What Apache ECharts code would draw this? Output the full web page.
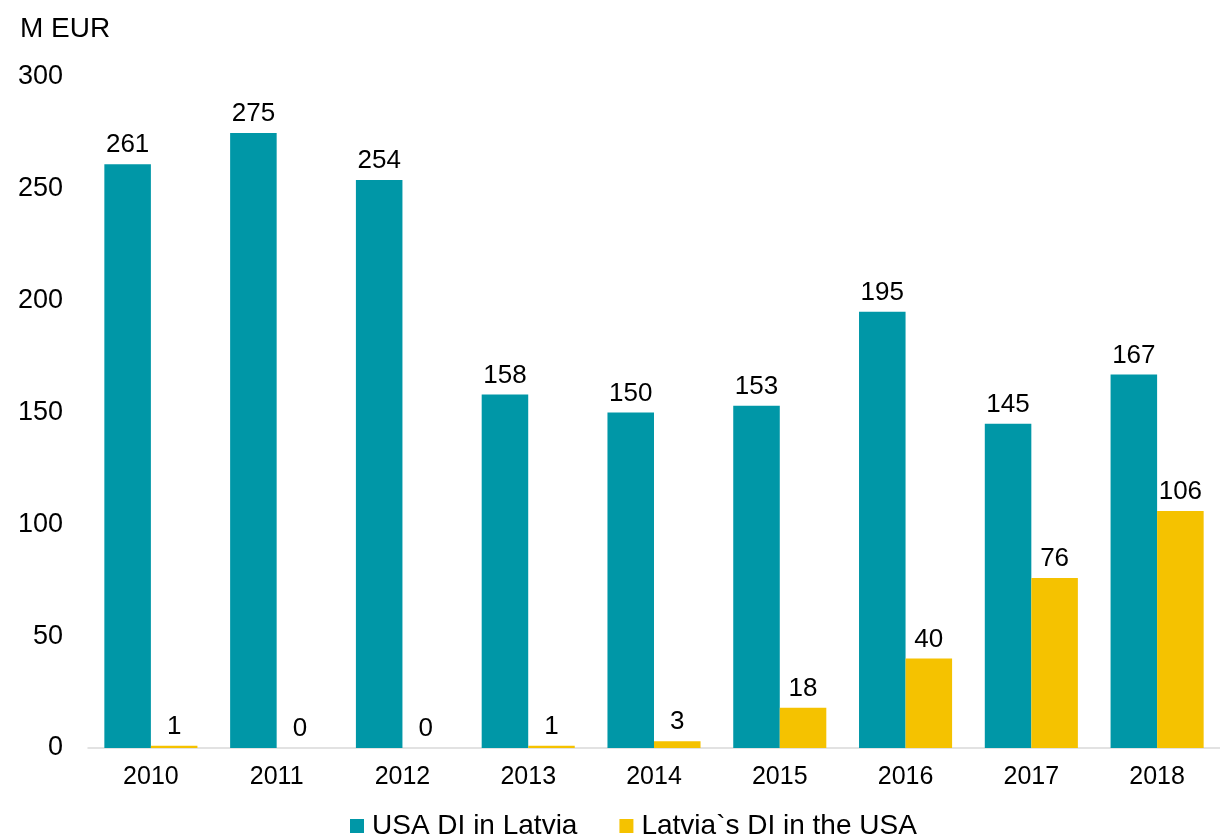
<!DOCTYPE html>
<html>
<head>
<meta charset="utf-8">
<script src="https://cdn.jsdelivr.net/npm/echarts@6/dist/echarts.min.js"></script>
<style>
  html, body { margin: 0; padding: 0; background: #fff; }
  #chart { width: 1220px; height: 834px; }
</style>
</head>
<body>
<div id="chart"></div>
<script>
// dati
const years = ["2010", "2011", "2012", "2013", "2014", "2015", "2016", "2017", "2018"];
const usaInLatvia = [261, 275, 254, 158, 150, 153, 195, 145, 167];
const latviaInUsa = [1, 0, 0, 1, 3, 18, 40, 76, 106];
const yTicks = [0, 50, 100, 150, 200, 250, 300];

const font = "Liberation Sans, Arial, sans-serif";

const myChart = echarts.init(document.getElementById("chart"));

const labelStyle = {
  show: true,
  position: "top",
  distance: 6,
  color: "#000",
  fontSize: 26,
  fontFamily: font
};

const option = {
  animation: false,
  textStyle: { fontFamily: font },
  title: {
    text: "M EUR",
    left: 15,
    top: 10,
    textStyle: { fontSize: 28, fontWeight: "normal", color: "#000", fontFamily: font }
  },
  grid: { left: 88, right: 0, top: 77, bottom: 86, containLabel: false },
  legend: {
    left: 345,
    top: 807,
    itemWidth: 14,
    itemHeight: 14,
    itemGap: 42,
    icon: "rect",
    textStyle: { fontSize: 28, color: "#000", fontFamily: font, padding: [0, 0, 0, 3] }
  },
  xAxis: {
    type: "category",
    data: years,
    axisLine: { lineStyle: { color: "#d9d9d9", width: 1.5 } },
    axisTick: { show: false },
    axisLabel: { color: "#000", fontSize: 25, margin: 17, fontFamily: font }
  },
  yAxis: {
    type: "value",
    min: yTicks[0],
    max: yTicks[yTicks.length - 1],
    interval: 50,
    splitLine: { show: false },
    axisLine: { show: false },
    axisTick: { show: false },
    axisLabel: { color: "#000", fontSize: 27, margin: 25, fontFamily: font }
  },
  series: [
    {
      name: "USA DI in Latvia",
      type: "bar",
      data: usaInLatvia,
      barWidth: "37%",
      barGap: "0%",
      itemStyle: { color: "#0097A7" },
      label: labelStyle
    },
    {
      name: "Latvia`s DI in the USA",
      type: "bar",
      data: latviaInUsa,
      barWidth: "37%",
      barGap: "0%",
      itemStyle: { color: "#F5C200" },
      label: labelStyle
    }
  ]
};

myChart.setOption(option);
</script>
</body>
</html>
